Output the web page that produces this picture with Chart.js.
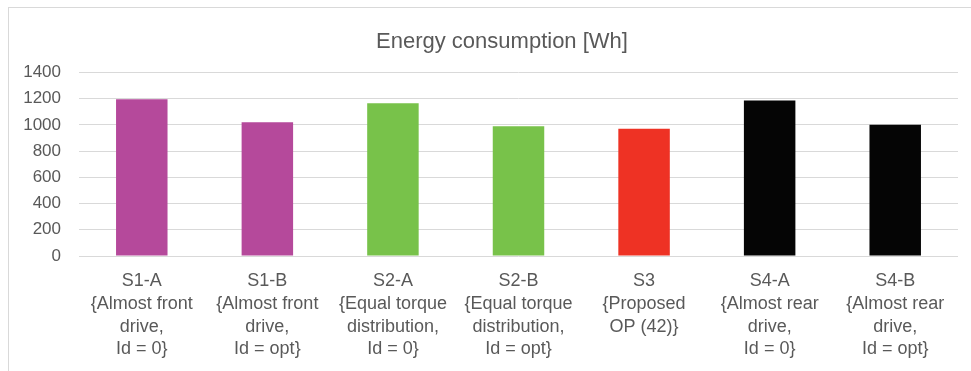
<!DOCTYPE html>
<html>
<head>
<meta charset="utf-8">
<script src="https://cdn.jsdelivr.net/npm/chart.js@4/dist/chart.umd.min.js"></script>
<style>
  html, body { margin: 0; padding: 0; background: #ffffff; overflow: hidden; }
  #wrap { position: relative; width: 971px; height: 371px; }
  #frame { position: absolute; left: 8px; top: 7px; width: 990px; height: 400px; border: 1px solid #D9D9D9; box-sizing: border-box; pointer-events: none; }
  canvas { position: absolute; left: 0; top: 0; }
</style>
</head>
<body>
<div id="wrap">
  <div id="frame"></div>
  <canvas id="c" width="971" height="371"></canvas>
</div>
<script>
const chartTitle = "Energy consumption [Wh]";
const categories = [
  ["S1-A", "{Almost front", "drive,", "Id = 0}"],
  ["S1-B", "{Almost front", "drive,", "Id = opt}"],
  ["S2-A", "{Equal torque", "distribution,", "Id = 0}"],
  ["S2-B", "{Equal torque", "distribution,", "Id = opt}"],
  ["S3", "{Proposed", "OP (42)}"],
  ["S4-A", "{Almost rear", "drive,", "Id = 0}"],
  ["S4-B", "{Almost rear", "drive,", "Id = opt}"]
];
const energyValues = [1195, 1020, 1165, 990, 970, 1185, 1000];
const barColors = ["#B5499B", "#B5499B", "#78C24A", "#78C24A", "#EE3224", "#050505", "#050505"];
const yTicks = [0, 200, 400, 600, 800, 1000, 1200, 1400];
const yTickLabels = ["0", "200", "400", "600", "800", "1000", "1200", "1400"];

const textColor = "#595959";
const fontFamily = "'Liberation Sans', Arial, sans-serif";

// shift the title slightly right, as in the original layout
const titleShift = {
  id: "titleShift",
  afterLayout(chart) {
    const t = chart.titleBlock;
    if (t) { t.left += 19; t.right += 19; }
  }
};

new Chart(document.getElementById("c"), {
  type: "bar",
  data: {
    labels: categories,
    datasets: [{
      data: energyValues,
      backgroundColor: barColors,
      borderWidth: 0,
      barPercentage: 0.41,
      categoryPercentage: 1.0
    }]
  },
  options: {
    responsive: false,
    animation: false,
    layout: { padding: { left: 8, right: 13, top: 0, bottom: 0 } },
    plugins: {
      legend: { display: false },
      tooltip: { enabled: false },
      title: {
        display: true,
        text: chartTitle,
        color: textColor,
        font: { family: fontFamily, size: 22, weight: "normal" },
        padding: { top: 29, bottom: 17 }
      }
    },
    scales: {
      x: {
        afterFit: (axis) => { axis.height = 115; },
        grid: { display: false },
        border: { display: false },
        ticks: {
          color: textColor,
          font: { family: fontFamily, size: 18, lineHeight: 1.26 },
          maxRotation: 0,
          autoSkip: false,
          padding: 6
        }
      },
      y: {
        min: 0,
        max: 1400,
        afterBuildTicks: (axis) => { axis.ticks = yTicks.map(v => ({ value: v })); },
        afterFit: (axis) => { axis.width = 71; },
        grid: { color: "#D9D9D9", lineWidth: 1, drawTicks: false },
        border: { display: false },
        ticks: {
          color: textColor,
          font: { family: fontFamily, size: 17 },
          padding: 18,
          callback: (value) => yTickLabels[yTicks.indexOf(value)] ?? String(value)
        }
      }
    }
  },
  plugins: [titleShift]
});
</script>
</body>
</html>
